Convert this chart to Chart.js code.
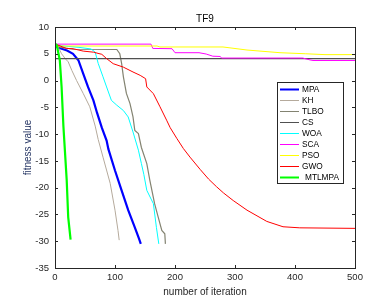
<!DOCTYPE html>
<html>
<head>
<meta charset="utf-8">
<script src="https://cdn.jsdelivr.net/npm/chart.js@4.4.1/dist/chart.umd.min.js"></script>
<style>
  html, body { margin: 0; padding: 0; background: #fff; }
  canvas { display: block; }
</style>
</head>
<body>
<canvas id="tf9" width="381" height="306"></canvas>
<script>
// curves (iteration, fitness value)
const mpaIter = [0, 10, 20, 30, 39, 47, 55, 64, 70, 78, 86, 89, 100, 111, 122, 133, 140, 143];
const mpaVal = [6.4, 6.0, 5.6, 5.0, 3.8, 1.3, -1.2, -3.7, -6.0, -8.8, -11.2, -12.8, -16.8, -20.5, -24.2, -27.4, -29.5, -30.5];

const khIter = [0, 5, 11, 17, 22, 28, 36, 47, 58, 67, 72, 80, 92, 100, 105, 107];
const khVal = [6.9, 6.3, 5.0, 4.1, 3.5, 1.9, 0.0, -2.4, -4.9, -8.5, -11.0, -14.3, -19.2, -24.2, -28.0, -29.8];

const tlboIter = [0, 10, 30, 103, 108, 111, 114, 119, 125, 130, 133, 139, 144, 153, 158, 166, 172, 178, 183, 184];
const tlboVal = [6.6, 6.2, 5.85, 5.8, 5.0, 3.2, 0.7, -2.4, -4.3, -6.8, -9.3, -9.9, -12.5, -15.5, -18.6, -23.0, -25.5, -28.0, -28.6, -30.5];

const csIter = [0, 500];
const csVal = [4.1, 4.1];

const woaIter = [0, 20, 40, 60, 67, 72, 80, 86, 94, 103, 114, 122, 130, 139, 144, 148, 153, 164, 169, 173];
const woaVal = [6.6, 6.4, 6.2, 5.9, 5.3, 3.2, 0.7, -1.2, -3.7, -4.6, -5.6, -6.8, -9.6, -13.0, -15.5, -17.5, -20.5, -23.0, -27.4, -30.5];

const scaIter = [0, 160, 163, 195, 200, 240, 252, 263, 275, 278, 413, 425, 430, 500];
const scaVal = [6.8, 6.8, 6.0, 5.95, 5.2, 5.2, 4.95, 4.55, 4.5, 4.2, 4.2, 3.85, 3.75, 3.75];

const psoIter = [0, 5, 170, 175, 280, 320, 375, 418, 450, 500];
const psoVal = [6.6, 6.45, 6.45, 6.27, 6.27, 5.7, 5.2, 5.0, 4.84, 4.84];

const gwoIter = [0, 3, 19, 30, 47, 64, 78, 86, 97, 114, 130, 142, 151, 153, 164, 175, 186, 192, 203, 214, 225, 242, 256, 269, 281, 297, 320, 353, 380, 408, 500];
const gwoVal = [6.7, 6.7, 6.0, 5.95, 5.5, 5.3, 4.9, 4.1, 3.15, 2.5, 1.6, 0.97, 0.35, -1.2, -2.45, -4.9, -7.4, -8.8, -10.8, -12.7, -14.3, -16.6, -18.4, -19.8, -21.0, -22.4, -24.2, -26.3, -27.3, -27.5, -27.6];

const mtlIter = [0, 3, 8, 11, 14, 19.5, 22, 26];
const mtlVal = [6.9, 6.6, 3.8, -1.2, -8.5, -18.6, -25.5, -29.7];

const xTicks = [0, 100, 200, 300, 400, 500];
const yTicks = [10, 5, 0, -5, -10, -15, -20, -25, -30, -35];

const names = ['MPA', 'KH', 'TLBO', 'CS', 'WOA', 'SCA', 'PSO', 'GWO', 'MTLMPA'];
const iters = [mpaIter, khIter, tlboIter, csIter, woaIter, scaIter, psoIter, gwoIter, mtlIter];
const vals = [mpaVal, khVal, tlboVal, csVal, woaVal, scaVal, psoVal, gwoVal, mtlVal];
const colors = ['#0000ff', '#b5aa9c', '#838371', '#505050', '#00ffff', '#ff00ff', '#ffff00', '#ff0000', '#00ff00'];
const widths = [2.2, 1, 1.2, 1.2, 1, 1, 1, 1, 2.2];

const font = 'Liberation Sans, Arial, sans-serif';

// matlab style box, inward ticks, titles and legend
const matlabBox = {
  id: 'matlabBox',
  afterDraw(chart) {
    const ctx = chart.ctx;
    const a = chart.chartArea;
    const xs = chart.scales.x, ys = chart.scales.y;
    ctx.save();
    ctx.strokeStyle = '#262626';
    ctx.lineWidth = 1;
    ctx.strokeRect(Math.round(a.left) + 0.5, Math.round(a.top) + 0.5, Math.round(a.right - a.left), Math.round(a.bottom - a.top));
    ctx.beginPath();
    xTicks.forEach(t => {
      const px = Math.round(xs.getPixelForValue(t)) + 0.5;
      ctx.moveTo(px, a.bottom); ctx.lineTo(px, a.bottom - 3);
      ctx.moveTo(px, a.top); ctx.lineTo(px, a.top + 3);
    });
    yTicks.forEach(t => {
      const py = Math.round(ys.getPixelForValue(t)) + 0.5;
      ctx.moveTo(a.left, py); ctx.lineTo(a.left + 3, py);
      ctx.moveTo(a.right, py); ctx.lineTo(a.right - 3, py);
    });
    ctx.stroke();

    ctx.fillStyle = '#000';
    ctx.font = '10px ' + font;
    ctx.textAlign = 'center';
    ctx.textBaseline = 'middle';
    ctx.fillText('TF9', (a.left + a.right) / 2, 19);
    ctx.fillStyle = '#262626';
    ctx.fillText('number of iteration', (a.left + a.right) / 2, 292);
    ctx.save();
    ctx.translate(28, (a.top + a.bottom) / 2);
    ctx.rotate(-Math.PI / 2);
    ctx.fillStyle = '#1f2f5f';
    ctx.fillText('fitness value', 0, 0);
    ctx.restore();

    // legend
    const lx = 277, ly = 82, lw = 66, lh = 101;
    ctx.fillStyle = '#fff';
    ctx.fillRect(lx, ly, lw, lh);
    ctx.strokeStyle = '#262626';
    ctx.strokeRect(lx + 0.5, ly + 0.5, lw, lh);
    ctx.font = '8.3px ' + font;
    ctx.textAlign = 'left';
    names.forEach((n, i) => {
      const y = 89 + i * 10.97;
      ctx.strokeStyle = colors[i];
      ctx.lineWidth = widths[i] > 2 ? 2 : 1;
      ctx.beginPath();
      ctx.moveTo(280, Math.round(y) + 0.5);
      ctx.lineTo(299, Math.round(y) + 0.5);
      ctx.stroke();
      ctx.fillStyle = '#000';
      ctx.fillText(n, n === 'MTLMPA' ? 305 : 302, y + 0.5);
    });
    ctx.restore();
  }
};

const datasets = names.map((n, i) => ({
  label: n,
  data: iters[i].map((x, k) => ({ x: x, y: vals[i][k] })),
  borderColor: colors[i],
  backgroundColor: colors[i],
  borderWidth: widths[i],
  pointRadius: 0,
  tension: 0,
  fill: false,
  order: -i
}));

new Chart(document.getElementById('tf9'), {
  type: 'line',
  data: { datasets: datasets },
  options: {
    responsive: false,
    animation: false,
    layout: { padding: { top: 27, right: 26, bottom: 0, left: 0 } },
    plugins: { legend: { display: false }, tooltip: { enabled: false }, title: { display: false } },
    scales: {
      x: {
        type: 'linear',
        min: 0, max: 500,
        afterFit: s => { s.height = 38; },
        afterBuildTicks: s => { s.ticks = xTicks.map(v => ({ value: v })); },
        grid: { display: false, drawTicks: false },
        border: { display: false },
        ticks: { padding: 4, color: '#262626', font: { family: font, size: 9.5 }, maxRotation: 0 }
      },
      y: {
        type: 'linear',
        min: -35, max: 10,
        afterFit: s => { s.width = 55; },
        afterBuildTicks: s => { s.ticks = yTicks.map(v => ({ value: v })); },
        grid: { display: false, drawTicks: false },
        border: { display: false },
        ticks: { padding: 6, color: '#262626', font: { family: font, size: 9.5 } }
      }
    }
  },
  plugins: [matlabBox]
});
</script>
</body>
</html>
